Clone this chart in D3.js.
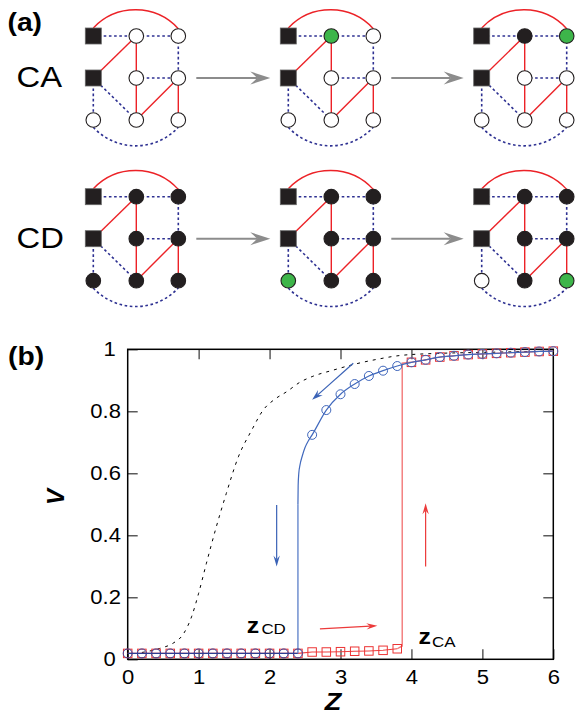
<!DOCTYPE html>
<html><head><meta charset="utf-8">
<script src="https://cdn.jsdelivr.net/npm/d3@7"></script>
<style>body{margin:0;background:#fff}svg{display:block}text{font-family:"Liberation Sans",Arial,sans-serif}</style>
</head><body><svg id="c" width="576" height="715"></svg>
<script>
// ---------------- data ----------------
const zValues = [0,0.2,0.4,0.6,0.8,1.0,1.2,1.4,1.6,1.8,2.0,2.2,2.4,2.6,2.8,3.0,3.2,3.4,3.6,3.8,4.0,4.2,4.4,4.6,4.8,5.0,5.2,5.4,5.6,5.8,6.0];
// CD (blue circles)
const cdV = [0.019,0.019,0.019,0.019,0.019,0.019,0.019,0.019,0.019,0.019,0.019,0.019,0.019,
             0.724,0.804,0.855,0.888,0.914,0.931,0.946,0.958,0.966,0.975,0.979,0.983,0.985,0.987,0.989,0.991,0.993,0.994];
// CA (red squares)
const caV = [0.019,0.019,0.019,0.019,0.019,0.019,0.019,0.019,0.019,0.019,0.019,0.019,0.019,
             0.0235,0.0235,0.0245,0.026,0.027,0.029,0.034,
             0.958,0.966,0.975,0.979,0.983,0.985,0.987,0.989,0.991,0.993,0.994];
// CD branch near the transition
const cdBranchZ = [2.4,2.403,2.412,2.43,2.46,2.5,2.55,2.6];
const cdBranchV = [0.5,0.56,0.60,0.628,0.655,0.683,0.706,0.724];
// CA jump
const caJumpZ = [3.8,3.87,3.87,4.0];
const caJumpV = [0.034,0.043,0.955,0.958];
// mean-field (dashed)
const mfZ = [0.2,0.45,0.64,0.78,0.9,1.0,1.11,1.25,1.39,1.56,1.75,1.91,2.08,2.24,2.43,2.6,2.9,3.2,3.5,3.84,4.4,5.0,6.0];
const mfV = [0.022,0.035,0.052,0.08,0.137,0.213,0.31,0.428,0.535,0.653,0.74,0.804,0.84,0.863,0.894,0.912,0.933,0.952,0.967,0.980,0.987,0.990,0.994];
const xTicks = [0,1,2,3,4,5,6];
const yTicks = [0,0.2,0.4,0.6,0.8,1];
const xTicksMinor = [1,2,3,4,5];
const yTicksMinor = [0.2,0.4,0.6,0.8];

// panel (a)
const rowLabels = ["CA","CD"];
const nodeNames = ["a","b","c","d","e","f","g"];
const caStates = [["w","w","w","w","w","w","w"],["g","w","w","w","w","w","w"],["k","g","w","w","w","w","w"]];
const cdStates = [["k","k","k","k","k","k","k"],["k","k","k","k","g","k","k"],["k","k","k","k","w","k","g"]];
const redEdges = [["s2","a"],["a","c"],["c","f"],["d","f"],["d","g"]];
const blueEdges = [["s1","a"],["a","b"],["b","d"],["c","d"],["s2","e"],["s2","f"]];

// ---------------- layout ----------------
const svg = d3.select("#c");
const SX = 1.13;
const BLACK = "#231f20";
function txt(g, x, y, s, size, opts={}) {
  return g.append("text").attr("transform", `translate(${x},${y}) scale(${SX},1)`)
    .attr("font-size", size).attr("font-weight", opts.bold ? "bold" : null)
    .attr("font-style", opts.italic ? "italic" : null)
    .attr("text-anchor", opts.anchor || "start").attr("fill", opts.fill || "#000").text(s);
}
function arrow(g, x1, y1, x2, y2, color, len, hw, w) {
  const L = Math.hypot(x2-x1, y2-y1), ux = (x2-x1)/L, uy = (y2-y1)/L, nx = -uy, ny = ux;
  const bx = x2-ux*len, by = y2-uy*len, mx = x2-ux*len*0.65, my = y2-uy*len*0.65;
  g.append("line").attr("x1",x1).attr("y1",y1).attr("x2",mx).attr("y2",my)
    .attr("stroke",color).attr("stroke-width",w);
  g.append("path").attr("d",`M${x2},${y2}L${bx+nx*hw},${by+ny*hw}L${mx},${my}L${bx-nx*hw},${by-ny*hw}Z`)
    .attr("fill",color);
}

// ---------------- panel (a) ----------------
const A = svg.append("g");
txt(A, 7.5, 31, "(a)", 25, {bold:true});
txt(A, 8, 365, "(b)", 25, {bold:true});
const graphX = [93.3, 288.3, 481.7];
const rowY = [36, 196.7];
const colOff = [0, 43, 85], rowOff = [0, 42, 84];
const nodePos = {s1:[0,0], s2:[0,1], a:[1,0], b:[2,0], c:[1,1], d:[2,1], e:[0,2], f:[1,2], g:[2,2]};
const fillOf = {w:"#fff", k:BLACK, g:"#3db54a"};
const R = 7.3, SQ = 16;

rowLabels.forEach((lab, ri) => {
  txt(A, 16.5, rowY[ri] + 51.3, lab, 29);
  const states = ri === 0 ? caStates : cdStates;
  graphX.forEach((gx, gi) => {
    const gy = rowY[ri];
    const P = k => [gx + colOff[nodePos[k][0]], gy + rowOff[nodePos[k][1]]];
    const G = A.append("g");
    // arcs
    const [s1x, s1y] = P("s1"), [bx, by] = P("b");
    G.append("path").attr("d", `M${s1x},${s1y-SQ/2}A58,58 0 0 1 ${bx},${by-R}`)
      .attr("fill","none").attr("stroke","#ec2227").attr("stroke-width",1.4);
    const [ex, ey] = P("e"), [g2x, g2y] = P("g");
    G.append("path").attr("d", `M${ex},${ey+R}A58,58 0 0 0 ${g2x},${g2y+R}`)
      .attr("fill","none").attr("stroke","#2e3192").attr("stroke-width",1.6).attr("stroke-dasharray","2.6,2.6");
    redEdges.forEach(([p,q]) => {
      const [x1,y1] = P(p), [x2,y2] = P(q);
      G.append("line").attr("x1",x1).attr("y1",y1).attr("x2",x2).attr("y2",y2)
        .attr("stroke","#ec2227").attr("stroke-width",1.4);
    });
    blueEdges.forEach(([p,q]) => {
      const [x1,y1] = P(p), [x2,y2] = P(q);
      G.append("line").attr("x1",x1).attr("y1",y1).attr("x2",x2).attr("y2",y2)
        .attr("stroke","#2e3192").attr("stroke-width",1.6).attr("stroke-dasharray","2.6,2.6");
    });
    ["s1","s2"].forEach(k => {
      const [x,y] = P(k);
      G.append("rect").attr("x",x-SQ/2).attr("y",y-SQ/2).attr("width",SQ).attr("height",SQ)
        .attr("fill",BLACK).attr("stroke","#666").attr("stroke-width",0.8);
    });
    nodeNames.forEach((k, ni) => {
      const [x,y] = P(k);
      G.append("circle").attr("cx",x).attr("cy",y).attr("r",R)
        .attr("fill",fillOf[states[gi][ni]]).attr("stroke",BLACK).attr("stroke-width",1.1);
    });
    if (gi < 2) {
      const ay = gy + rowOff[1];
      arrow(A, gx + 85 + 18, ay, graphX[gi+1] - 18, ay, "#8c8c8c", 20, 6.5, 2);
    }
  });
});

// ---------------- panel (b) ----------------
const x = d3.scaleLinear().domain([0,6]).range([127.7,553.3]);
const y = d3.scaleLinear().domain([0,1]).range([659.3,349.3]);
const B = svg.append("g");

// axes
const fmt = d => d === 0 || d === 1 ? String(d) : d3.format(".1f")(d);
const ax = B.append("g").attr("transform",`translate(0,${y(0)})`)
  .call(d3.axisBottom(x).tickValues(xTicks).tickSize(-10).tickPadding(11).tickFormat(d3.format("d")));
const ay = B.append("g").attr("transform",`translate(${x(0)},0)`)
  .call(d3.axisLeft(y).tickValues(yTicks).tickSize(-10).tickPadding(6).tickFormat(fmt));
const at = B.append("g").attr("transform",`translate(0,${y(1)})`)
  .call(d3.axisTop(x).tickValues(xTicksMinor).tickSize(-10).tickFormat(""));
const ar = B.append("g").attr("transform",`translate(${x(6)},0)`)
  .call(d3.axisRight(y).tickValues(yTicksMinor).tickSize(-10).tickFormat(""));
[ax, ay, at, ar].forEach(g => {
  g.select(".domain").remove();
  g.selectAll(".tick line").attr("stroke","#333").attr("stroke-width",1.2);
  g.selectAll("text").attr("font-size",19.5).attr("font-family","'Liberation Sans',Arial,sans-serif")
    .attr("fill","#000").attr("transform",`scale(${SX},1)`);
});
ay.selectAll(".tick text").attr("x", d => (d === 0 || d === 1) ? -10.5 : -6);

// frame
B.append("rect").attr("x",x(0)).attr("y",y(1)).attr("width",x(6)-x(0)).attr("height",y(0)-y(1))
  .attr("fill","none").attr("stroke","#000").attr("stroke-width",1.5);

// mean-field dashed
const mf = mfZ.map((z,i) => [z, mfV[i]]);
B.append("path").attr("d", d3.line().x(d=>x(d[0])).y(d=>y(d[1])).curve(d3.curveMonotoneX)(mf))
  .attr("fill","none").attr("stroke","#000").attr("stroke-width",1).attr("stroke-dasharray","3,5");

// CA line (red)
const caLow = zValues.map((z,i)=>[z,caV[i]]).filter(d=>d[0]<=3.8);
const caHigh = zValues.map((z,i)=>[z,caV[i]]).filter(d=>d[0]>=4.0);
const lin = d3.line().x(d=>x(d[0])).y(d=>y(d[1]));
B.append("path").attr("d", lin(caLow)).attr("fill","none").attr("stroke","#ee4040").attr("stroke-width",1.1);
B.append("path").attr("d", lin(caJumpZ.map((z,i)=>[z,caJumpV[i]]))).attr("fill","none").attr("stroke","#f27878").attr("stroke-width",1.4);
B.append("path").attr("d", lin(caHigh)).attr("fill","none").attr("stroke","#ee4040").attr("stroke-width",1.1);
// red squares
const sq = 8.5;
B.selectAll("rect.ca").data(zValues.map((z,i)=>[z,caV[i]])).enter().append("rect")
  .attr("x",d=>x(d[0])-sq/2).attr("y",d=>y(d[1])-sq/2).attr("width",sq).attr("height",sq)
  .attr("fill","none").attr("stroke","#ec3434").attr("stroke-width",1);

// CD line (blue)
const cdLow = zValues.map((z,i)=>[z,cdV[i]]).filter(d=>d[0]<=2.4);
const cdUp = cdBranchZ.map((z,i)=>[z,cdBranchV[i]]).concat(zValues.map((z,i)=>[z,cdV[i]]).filter(d=>d[0]>=2.8));
B.append("path").attr("d", lin(cdLow)).attr("fill","none").attr("stroke","#2c3f93").attr("stroke-width",1.2);
B.append("path").attr("d", lin([[2.4,cdV[12]],[2.4,cdBranchV[0]]])).attr("fill","none").attr("stroke","#5a7ec8").attr("stroke-width",1.3);
B.append("path").attr("d", d3.line().x(d=>x(d[0])).y(d=>y(d[1])).curve(d3.curveMonotoneX)(cdUp))
  .attr("fill","none").attr("stroke","#4169bd").attr("stroke-width",1.2);
B.selectAll("circle.cd").data(zValues.map((z,i)=>[z,cdV[i]])).enter().append("circle")
  .attr("cx",d=>x(d[0])).attr("cy",d=>y(d[1])).attr("r",4.5)
  .attr("fill","none").attr("stroke",d=>d[0]<=2.4?"#33449c":"#3f66bb").attr("stroke-width",1);

// annotation arrows
arrow(B, x(3.18), y(0.955), x(2.60), y(0.837), "#3a62b6", 11, 3.5, 1.2);
arrow(B, x(2.10), y(0.498), x(2.10), y(0.299), "#3a62b6", 11, 3.2, 1.2);
arrow(B, x(4.20), y(0.299), x(4.20), y(0.503), "#ec3a3a", 11, 3.2, 1.2);
arrow(B, x(2.71), y(0.098), x(3.52), y(0.108), "#ec3a3a", 11, 3.2, 1.2);

// labels
const zcd = B.append("text").attr("transform",`translate(246.7,633.3) scale(${SX},1)`);
zcd.append("tspan").attr("font-size",22).attr("font-weight","bold").text("z");
zcd.append("tspan").attr("font-size",15).attr("dx",2).attr("dy",1).text("CD");
const zca = B.append("text").attr("transform",`translate(418.5,644) scale(${SX},1)`);
zca.append("tspan").attr("font-size",22).attr("font-weight","bold").text("z");
zca.append("tspan").attr("font-size",15).attr("dx",1).attr("dy",2.5).text("CA");

txt(B, 333, 710, "Z", 24, {bold:true, italic:true, anchor:"middle"});
B.append("text").attr("transform","translate(64,497) rotate(-90)")
  .attr("font-size",24).attr("font-weight","bold").attr("font-style","italic")
  .attr("text-anchor","middle").text("V");
</script></body></html>
